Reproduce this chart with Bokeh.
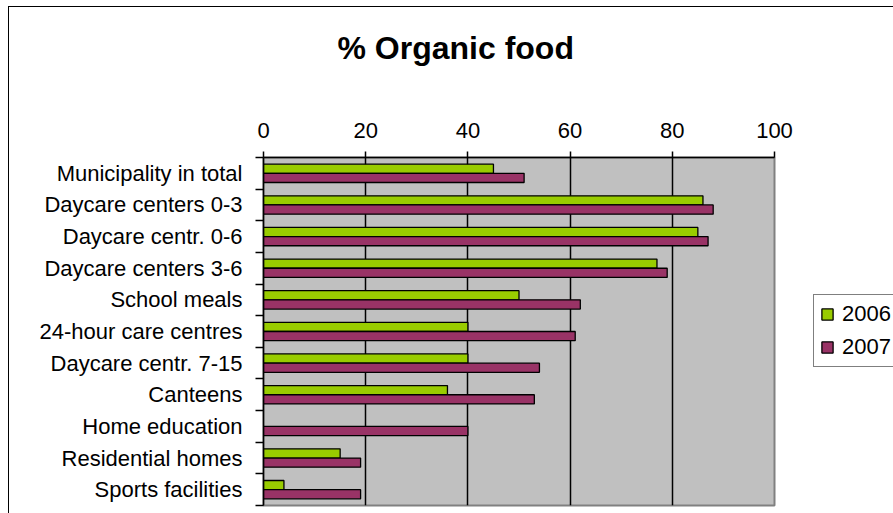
from bokeh.plotting import figure
from bokeh.models import Range1d, FixedTicker, Legend, LegendItem, Title, ColumnDataSource
from bokeh.embed import file_html
from bokeh.resources import INLINE

# ---- data ----
categories = ["Municipality in total", "Daycare centers 0-3", "Daycare centr. 0-6",
              "Daycare centers 3-6", "School meals", "24-hour care centres",
              "Daycare centr. 7-15", "Canteens", "Home education",
              "Residential homes", "Sports facilities"]
values_2006 = [45, 86, 85, 77, 50, 40, 40, 36, None, 15, 4]
values_2007 = [51, 88, 87, 79, 62, 61, 54, 53, 40, 19, 19]
x_ticks = [0, 20, 40, 60, 80, 100]
series_names = ["2006", "2007"]
title_text = "% Organic food"

FONT = "Liberation Sans"
GREEN = "#99CC00"
PURPLE = "#993366"
n = len(categories)
centers = [i + 0.5 for i in range(n)]
bar_h = 0.29


def clean(v):
    return [float("nan") if x is None else x for x in v]


src06 = ColumnDataSource(dict(y=[c - bar_h / 2 for c in centers], right=clean(values_2006)))
src07 = ColumnDataSource(dict(y=[c + bar_h / 2 for c in centers], right=clean(values_2007)))

p = figure(frame_width=511, frame_height=348,
           min_border_left=254, min_border_right=119, min_border_top=150, min_border_bottom=8,
           x_range=Range1d(x_ticks[0], x_ticks[-1]), y_range=Range1d(n, 0),
           x_axis_location="above", toolbar_location=None, output_backend="svg",
           background_fill_color="#C0C0C0", border_fill_color="white")

p.styles = {"margin-left": "8px", "margin-top": "6px",
            "border-left": "1px solid black", "border-top": "1px solid black"}

# trailing blank line leaves the gap between the title and the value axis
p.title = Title(text=title_text + "\n ", align="left", offset=74, standoff=35,
                text_font_size="32px", text_font=FONT, text_font_style="bold",
                text_color="black")

r06 = p.hbar(y="y", right="right", left=0, height=bar_h, source=src06,
             fill_color=GREEN, line_color="black", line_width=1.3)
r07 = p.hbar(y="y", right="right", left=0, height=bar_h, source=src07,
             fill_color=PURPLE, line_color="black", line_width=1.3)

# x axis (top)
xa = p.xaxis[0]
xa.ticker = FixedTicker(ticks=x_ticks)
xa.axis_line_color = "black"
xa.axis_line_width = 1.5
xa.major_tick_line_color = "black"
xa.major_tick_line_width = 1.5
xa.major_tick_out = 6
xa.major_tick_in = 0
xa.minor_tick_line_color = None
xa.major_label_text_font = FONT
xa.major_label_text_font_size = "22px"
xa.major_label_text_color = "black"
xa.major_label_standoff = 14

# y axis (left) - labels at centers, tick marks at category boundaries
ya = p.yaxis[0]
ya.ticker = FixedTicker(ticks=centers, minor_ticks=list(range(n + 1)))
ya.major_label_overrides = {c: name for c, name in zip(centers, categories)}
ya.axis_line_color = "black"
ya.axis_line_width = 1.5
ya.major_tick_line_color = None
ya.major_tick_out = 0
ya.major_tick_in = 0
ya.minor_tick_line_color = "black"
ya.minor_tick_line_width = 1.5
ya.minor_tick_out = 8
ya.minor_tick_in = 0
ya.major_label_text_font = FONT
ya.major_label_text_font_size = "22px"
ya.major_label_text_color = "black"
ya.major_label_standoff = 13

p.xgrid.ticker = FixedTicker(ticks=x_ticks[1:-1])
p.xgrid.grid_line_color = "black"
p.xgrid.grid_line_width = 1.5
p.ygrid.visible = False

p.outline_line_color = "#808080"
p.outline_line_width = 2

legend = Legend(items=[LegendItem(label=series_names[0], renderers=[r06]),
                       LegendItem(label=series_names[1], renderers=[r07])],
                location=(39, 138),
                border_line_color="black", border_line_width=1,
                background_fill_color="white", background_fill_alpha=1,
                padding=6, spacing=7, margin=0,
                glyph_width=14, glyph_height=14, label_standoff=8,
                label_text_font=FONT, label_text_font_size="22px",
                label_text_color="black")
p.add_layout(legend, "right")

open("out.html", "w").write(file_html(p, INLINE))
